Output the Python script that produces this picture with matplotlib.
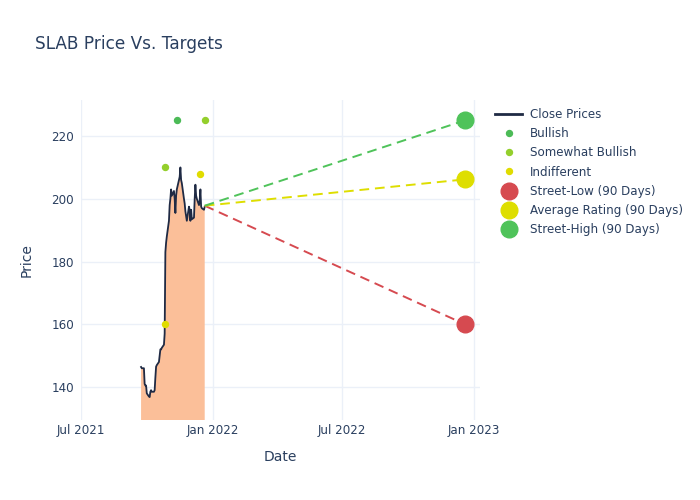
import matplotlib
matplotlib.use("Agg")
import matplotlib.pyplot as plt
import matplotlib.dates as mdates
from matplotlib.lines import Line2D
import pandas as pd

# ---- data ----
close_dates = ["2021-09-23","2021-09-24","2021-09-27","2021-09-28","2021-09-29","2021-09-30",
               "2021-10-01","2021-10-04","2021-10-05","2021-10-06","2021-10-07","2021-10-08",
               "2021-10-11","2021-10-12","2021-10-13","2021-10-14","2021-10-15","2021-10-18",
               "2021-10-19","2021-10-20","2021-10-21","2021-10-22","2021-10-25","2021-10-26",
               "2021-10-27","2021-10-28","2021-10-29","2021-11-01","2021-11-02","2021-11-03",
               "2021-11-04","2021-11-05","2021-11-08","2021-11-09","2021-11-10","2021-11-11",
               "2021-11-12","2021-11-15","2021-11-16","2021-11-17","2021-11-18","2021-11-19",
               "2021-11-22","2021-11-23","2021-11-24","2021-11-26","2021-11-29","2021-11-30",
               "2021-12-01","2021-12-02","2021-12-03","2021-12-06","2021-12-07","2021-12-08",
               "2021-12-09","2021-12-10","2021-12-13","2021-12-14","2021-12-15","2021-12-16",
               "2021-12-17","2021-12-20","2021-12-21"]
close_prices = [146.4, 146.0, 146.0, 141.0, 140.5, 140.5,
                138.0, 137.0, 136.8, 138.5, 139.0, 138.5,
                138.5, 139.0, 143.0, 146.5, 147.0, 148.0,
                150.0, 152.0, 152.0, 152.5, 153.5, 157.0,
                183.0, 186.0, 188.0, 193.0, 198.0, 200.0,
                203.0, 201.0, 202.5, 200.0, 195.5, 201.0,
                203.0, 206.0, 207.0, 210.0, 206.0, 205.0,
                200.0, 198.5, 196.0, 193.0, 197.5, 196.5,
                193.0, 196.5, 193.5, 194.0, 200.0, 204.5,
                201.0, 200.0, 198.0, 199.5, 203.0, 197.5,
                197.0, 196.5, 197.5]

bullish_dates = ["2021-11-12"]
bullish_prices = [225.0]
somewhat_dates = ["2021-10-27", "2021-12-21"]
somewhat_prices = [210.0, 225.0]
indifferent_dates = ["2021-10-27", "2021-12-14"]
indifferent_prices = [160.0, 208.0]

target_start_date = "2021-12-21"
target_start_price = 197.8
target_end_date = "2022-12-20"
street_low = 160.0
street_avg = 206.2
street_high = 225.0

title = "SLAB Price Vs. Targets"

# ---- styling ----
TXT = "#2a3f5f"
GRID = "#ebf0f8"
C_LINE = "#1f2a44"
C_FILL = "#fbbf99"
C_BULL = "#4cbb57"
C_SWB = "#94cf2c"
C_IND = "#e0dc00"
C_LOW = "#d64a50"
C_AVG = "#dede00"
C_HIGH = "#4fc35a"

plt.rcParams['font.family'] = ['DejaVu Sans']

fig = plt.figure(figsize=(7, 5), dpi=100)
ax = fig.add_axes([81/700, 1-420/500, 399/700, 320/500])

cd = pd.to_datetime(close_dates)
ax.fill_between(cd, close_prices, 0, color=C_FILL, lw=0, zorder=2)
ax.plot(cd, close_prices, color=C_LINE, lw=1.3, zorder=3)

ts = pd.to_datetime(target_start_date)
te = pd.to_datetime(target_end_date)
ax.plot([ts, te], [target_start_price, street_low], ls=(0, (5, 3)), color=C_LOW, lw=1.4, zorder=3)
ax.plot([ts, te], [target_start_price, street_avg], ls=(0, (5, 3)), color=C_AVG, lw=1.4, zorder=3)
ax.plot([ts, te], [target_start_price, street_high], ls=(0, (5, 3)), color=C_HIGH, lw=1.4, zorder=3)

ax.plot(pd.to_datetime(bullish_dates), bullish_prices, 'o', color=C_BULL, ms=4.3, zorder=4)
ax.plot(pd.to_datetime(somewhat_dates), somewhat_prices, 'o', color=C_SWB, ms=4.3, zorder=4)
ax.plot(pd.to_datetime(indifferent_dates), indifferent_prices, 'o', color=C_IND, ms=4.3, zorder=4)

ax.plot([te], [street_low], 'o', color=C_LOW, ms=12, zorder=5)
ax.plot([te], [street_avg], 'o', color=C_AVG, ms=12, zorder=5)
ax.plot([te], [street_high], 'o', color=C_HIGH, ms=12, zorder=5)

ax.set_xlim(pd.Timestamp("2021-07-01"), pd.Timestamp("2023-01-10"))
ax.set_ylim(129.5, 231.5)
ax.xaxis.set_major_locator(mdates.MonthLocator(bymonth=[1, 7]))
ax.xaxis.set_major_formatter(mdates.DateFormatter("%b %Y"))
ax.set_yticks([140, 160, 180, 200, 220])

ax.grid(True, color=GRID, lw=1, zorder=0)
ax.set_axisbelow(True)
for s in ax.spines.values():
    s.set_visible(False)
ax.tick_params(axis='x', length=0, colors=TXT, labelsize=8.6, pad=3)
ax.tick_params(axis='y', length=0, colors=TXT, labelsize=8.6, pad=5)

ax.set_xlabel("Date", color=TXT, fontsize=10, labelpad=9)
ax.set_ylabel("Price", color=TXT, fontsize=10, labelpad=13)

fig.text(35/700, 1-44/500, title, color=TXT, fontsize=12.2, va='center', ha='left')

handles = [
    Line2D([], [], color=C_LINE, lw=2),
    Line2D([], [], ls='none', marker='o', color=C_BULL, ms=4.3),
    Line2D([], [], ls='none', marker='o', color=C_SWB, ms=4.3),
    Line2D([], [], ls='none', marker='o', color=C_IND, ms=4.3),
    Line2D([], [], ls='none', marker='o', color=C_LOW, ms=12),
    Line2D([], [], ls='none', marker='o', color=C_AVG, ms=12),
    Line2D([], [], ls='none', marker='o', color=C_HIGH, ms=12),
]
labels = ["Close Prices", "Bullish", "Somewhat Bullish", "Indifferent",
          "Street-Low (90 Days)", "Average Rating (90 Days)", "Street-High (90 Days)"]
leg = fig.legend(handles, labels, loc='upper left', bbox_to_anchor=(495/700, 1-108/500),
                 frameon=False, fontsize=8.6, labelspacing=0.52, handlelength=2.3,
                 handletextpad=0.6, borderaxespad=0, borderpad=0)
for t in leg.get_texts():
    t.set_color(TXT)

fig.savefig("out.png", dpi=100)
